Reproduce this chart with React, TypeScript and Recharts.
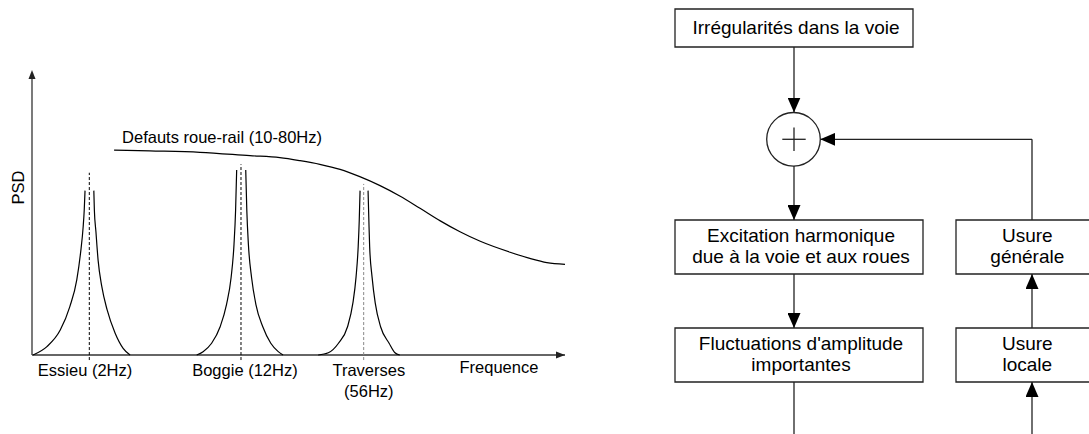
import React from 'react';
import {
  ComposedChart,
  Line,
  XAxis,
  YAxis,
  ReferenceLine,
  ReferenceArea,
  ReferenceDot,
  LabelList,
} from 'recharts';

// Left panel: schematic PSD (arbitrary units, x 0-100, y 0-100)
const peak1Left = [
  { x: 0.2, y: 0 }, { x: 2.8, y: 3.0 }, { x: 5.3, y: 8.9 }, { x: 7.1, y: 17.3 }, { x: 8.4, y: 26.8 },
  { x: 9.1, y: 36.3 }, { x: 9.6, y: 45.8 }, { x: 9.8, y: 51.8 }, { x: 9.95, y: 58.7 },
];
const peak1Right = [
  { x: 11.6, y: 58.7 }, { x: 11.7, y: 51.8 }, { x: 12.0, y: 43.9 }, { x: 12.4, y: 33.9 }, { x: 13.1, y: 24.4 },
  { x: 14.1, y: 16.1 }, { x: 15.6, y: 7.8 }, { x: 17.1, y: 2.4 }, { x: 18.4, y: 0 },
];
const peak2Left = [
  { x: 30.9, y: 0 }, { x: 32.1, y: 1.2 }, { x: 33.7, y: 4.2 }, { x: 35.3, y: 10.1 }, { x: 36.5, y: 18.1 },
  { x: 37.35, y: 27.6 }, { x: 37.9, y: 39.5 }, { x: 38.2, y: 51.8 }, { x: 38.4, y: 66.1 },
];
const peak2Right = [
  { x: 40.1, y: 66.1 }, { x: 40.3, y: 51.8 }, { x: 40.6, y: 39.5 }, { x: 41.2, y: 27.6 }, { x: 42.0, y: 18.1 },
  { x: 43.3, y: 10.1 }, { x: 44.8, y: 4.2 }, { x: 46.2, y: 1.2 }, { x: 47.1, y: 0 },
];
const peak3Left = [
  { x: 53.7, y: 0 }, { x: 55.6, y: 0.8 }, { x: 57.5, y: 4.2 }, { x: 59.2, y: 10.1 }, { x: 60.2, y: 18.5 },
  { x: 60.8, y: 27.9 }, { x: 61.2, y: 38.7 }, { x: 61.4, y: 48.2 }, { x: 61.55, y: 58.7 },
];
const peak3Right = [
  { x: 63.05, y: 58.7 }, { x: 63.2, y: 48.2 }, { x: 63.35, y: 38.7 }, { x: 63.8, y: 27.9 }, { x: 64.4, y: 18.5 },
  { x: 65.4, y: 10.1 }, { x: 67.0, y: 4.2 }, { x: 68.1, y: 0.8 }, { x: 69.0, y: 0 },
];
const wheelRailCurve = [
  { x: 15.4, y: 73.2 }, { x: 22.1, y: 72.9 }, { x: 31.5, y: 72.4 }, { x: 40.9, y: 71.2 }, { x: 46.5, y: 70.5 },
  { x: 50.3, y: 69.4 }, { x: 54.0, y: 68.1 }, { x: 57.8, y: 66.3 }, { x: 61.5, y: 63.7 }, { x: 65.3, y: 60.5 },
  { x: 69.0, y: 56.8 }, { x: 72.8, y: 52.4 }, { x: 76.6, y: 47.9 }, { x: 80.3, y: 44.0 }, { x: 84.1, y: 40.6 },
  { x: 89.7, y: 36.7 }, { x: 93.4, y: 34.5 }, { x: 96.6, y: 33.0 }, { x: 100, y: 32.4 },
];
const peakCenters = [10.75, 39.21, 62.23];
const peakMarkerTops = [65.1, 68.1, 61.1];
const peakMarkerBottom = -1.8;
const tickPositions = [9.95, 39.95, 63.2];
const tickLabels = [['Essieu (2Hz)'], ['Boggie (12Hz)'], ['Traverses', '(56Hz)']];
const curveLabel = 'Defauts roue-rail (10-80Hz)';
const xTitle = 'Frequence';
const yTitle = 'PSD';

// Right panel: block diagram
const boxTexts = [
  ['Irrégularités dans la voie'],
  ['Excitation harmonique', 'due à la voie et aux roues'],
  ["Fluctuations d'amplitude", 'importantes'],
  ['Usure', 'générale'],
  ['Usure', 'locale'],
];
const boxLayout = [
  { x1: 35, x2: 273, y1: 9, y2: 47 },
  { x1: 35, x2: 283, y1: 220, y2: 274 },
  { x1: 35, x2: 283, y1: 328, y2: 382 },
  { x1: 316, x2: 460, y1: 220, y2: 274 },
  { x1: 316, x2: 460, y1: 328, y2: 382 },
];
const arrowSegments = [
  [154, 47, 154, 112.5],
  [154, 166, 154, 220],
  [154, 274, 154, 328],
  [392, 328, 392, 274],
  [392, 434, 392, 382],
  [392, 139.3, 180.3, 139.3],
];
const plainSegments = [
  [154, 382, 154, 434],
  [392, 220, 392, 139.3],
  [142.3, 139.3, 165.7, 139.3],
  [154, 127.6, 154, 151],
];
const sumNode = { x: 153.5, y: 139.3, r: 26.8 };

const FONT = '"Liberation Sans", Arial, Helvetica, sans-serif';
const peakSeries = [peak1Left, peak1Right, peak2Left, peak2Right, peak3Left, peak3Right];
const dashColors = ['#000', '#000', '#888'];

const PeakTick = (props: any) => {
  const { x, y, index } = props;
  const lines = tickLabels[index] || [];
  return (
    <text x={x} y={y} textAnchor="middle" fontFamily={FONT} fontSize={16.5} fill="#000">
      {lines.map((l, i) => (
        <tspan key={i} x={x} dy={i === 0 ? 7 : 21.5}>{l}</tspan>
      ))}
    </text>
  );
};

const PsdChart = () => (
  <ComposedChart width={640} height={434} margin={{ top: 75, right: 75, left: 0, bottom: 33.4 }}>
    <defs>
      <marker id="axArrowX" markerWidth={9} markerHeight={8} refX={9} refY={4} orient="auto" markerUnits="userSpaceOnUse">
        <path d="M0,0.5 L9,4 L0,7.5 z" fill="#222" />
      </marker>
      <marker id="axArrowY" markerWidth={9} markerHeight={8} refX={4} refY={4} orient="auto" markerUnits="userSpaceOnUse">
        <path d="M0,0.5 L9,4 L0,7.5 z" fill="#222" />
      </marker>
    </defs>
    <XAxis
      dataKey="x"
      type="number"
      domain={[0, 100]}
      ticks={tickPositions}
      interval={0}
      height={40}
      axisLine={false}
      tickLine={false}
      tick={<PeakTick />}
      label={{
        content: (p: any) => (
          <text x={p.viewBox.x + p.viewBox.width * 0.876} y={p.viewBox.y + 12.8} textAnchor="middle"
            fontFamily={FONT} fontSize={16.5} fill="#000">{xTitle}</text>
        ),
      }}
    />
    <YAxis
      type="number"
      domain={[-2, 100]}
      width={32}
      axisLine={false}
      tickLine={false}
      tick={false}
      label={{
        content: (p: any) => (
          <text x={p.viewBox.x + 18} y={p.viewBox.y + 112.5} textAnchor="middle" dominantBaseline="central"
            transform={`rotate(-90 ${p.viewBox.x + 18} ${p.viewBox.y + 112.5})`}
            fontFamily={FONT} fontSize={16.5} fill="#000">{yTitle}</text>
        ),
      }}
    />
    <ReferenceLine y={0} stroke="#333" strokeWidth={1.3} markerEnd="url(#axArrowX)" />
    <ReferenceLine segment={[{ x: 0, y: 0 }, { x: 0, y: 100 }]} stroke="#333" strokeWidth={1.3} markerEnd="url(#axArrowY)" />
    {peakCenters.map((c, i) => (
      <Line
        key={`dash${i}`}
        data={[{ x: c, y: peakMarkerBottom }, { x: c, y: peakMarkerTops[i] }]}
        dataKey="y"
        type="linear"
        stroke={dashColors[i]}
        strokeWidth={1}
        strokeDasharray="3 2"
        dot={false}
        activeDot={false}
        isAnimationActive={false}
      />
    ))}
    {peakSeries.map((d, i) => (
      <Line
        key={`peak${i}`}
        data={d}
        dataKey="y"
        type="monotone"
        stroke="#000"
        strokeWidth={1.2}
        dot={false}
        activeDot={false}
        isAnimationActive={false}
      />
    ))}
    <Line
      data={wheelRailCurve}
      dataKey="y"
      type="monotone"
      stroke="#000"
      strokeWidth={1.2}
      dot={false}
      activeDot={false}
      isAnimationActive={false}
    >
      <LabelList
        dataKey="y"
        content={(p: any) =>
          p.index === 0 ? (
            <text x={p.x + 8} y={p.y - 7} fontFamily={FONT} fontSize={16.5} fill="#000">{curveLabel}</text>
          ) : null
        }
      />
    </Line>
  </ComposedChart>
);

const BoxLabel = (lines: string[]) => (p: any) => {
  const { x, y, width, height } = p.viewBox;
  const cx = width > 200 ? x + width / 2 + 2 : x + 71.3;
  const cy = y + height / 2;
  const n = lines.length;
  return (
    <text textAnchor="middle" fontFamily={FONT} fontSize={19} fill="#000">
      {lines.map((l, i) => (
        <tspan key={i} x={cx} y={cy + (i - (n - 1) / 2) * 21.3 + 5.7}>{l}</tspan>
      ))}
    </text>
  );
};

const FlowChart = () => (
  <ComposedChart width={449} height={434} margin={{ top: 0, right: 0, left: 0, bottom: 0 }}>
    <defs>
      <marker id="flowArrow" markerWidth={15} markerHeight={13} refX={15} refY={6.5} orient="auto" markerUnits="userSpaceOnUse">
        <path d="M0,0 L15,6.5 L0,13 z" fill="#000" />
      </marker>
    </defs>
    <XAxis type="number" dataKey="x" domain={[0, 449]} hide allowDataOverflow />
    <YAxis type="number" domain={[0, 434]} reversed hide allowDataOverflow />
    {plainSegments.map((s, i) => (
      <ReferenceLine key={`pl${i}`} segment={[{ x: s[0], y: s[1] }, { x: s[2], y: s[3] }]} stroke="#222" strokeWidth={1.3} ifOverflow="visible" />
    ))}
    {arrowSegments.map((s, i) => (
      <ReferenceLine key={`ar${i}`} segment={[{ x: s[0], y: s[1] }, { x: s[2], y: s[3] }]} stroke="#222" strokeWidth={1.3}
        markerEnd="url(#flowArrow)" ifOverflow="visible" />
    ))}
    <ReferenceDot x={sumNode.x} y={sumNode.y} r={sumNode.r} fill="none" stroke="#222" strokeWidth={1.3} ifOverflow="visible" />
    {boxLayout.map((b, i) => (
      <ReferenceArea key={`box${i}`} x1={b.x1} x2={b.x2} y1={b.y1} y2={b.y2} fill="#fff" fillOpacity={1}
        stroke="#222" strokeWidth={1.3} ifOverflow="visible" label={{ content: BoxLabel(boxTexts[i]) }} />
    ))}
  </ComposedChart>
);

export default function App() {
  return (
    <div style={{ position: 'absolute', left: 0, top: 0, width: 1089, height: 434, background: '#fff', display: 'flex' }}>
      <PsdChart />
      <FlowChart />
    </div>
  );
}
